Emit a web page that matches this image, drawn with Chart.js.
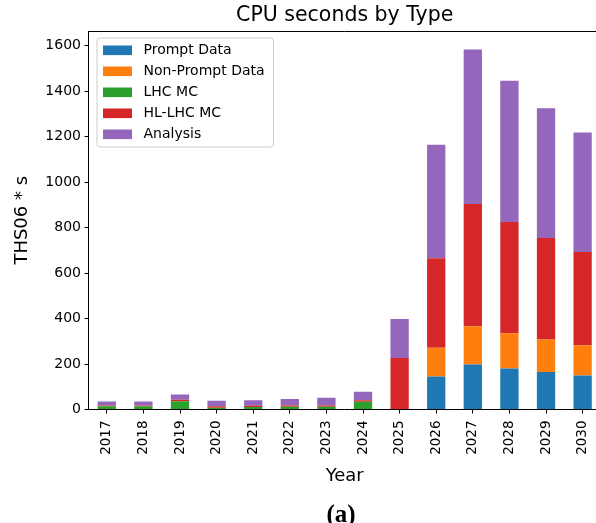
<!DOCTYPE html>
<html lang="en">
<head>
  <meta charset="UTF-8" />
  <title>CPU seconds by Type</title>
  <script src="https://cdn.jsdelivr.net/npm/chart.js"></script>
  <style>
    html, body {
      margin: 0;
      padding: 0;
      background: #fff;
      overflow: hidden;
    }
    canvas {
      display: block;
    }
  </style>
</head>
<body>
  <canvas id="cpuChart" width="606" height="523"></canvas>

  <script>
  // values (THS06 * s)
  const years = ['2017', '2018', '2019', '2020', '2021', '2022', '2023',
                 '2024', '2025', '2026', '2027', '2028', '2029', '2030'];
  const promptData    = [0, 0, 0, 0, 0, 0, 0, 0, 0, 145, 198, 180, 165, 150];
  const nonPromptData = [0, 0, 0, 0, 0, 0, 0, 0, 0, 127, 168, 155, 143, 133];
  const lhcMC         = [14, 14, 36, 8, 11, 12, 12, 34, 0, 0, 0, 0, 0, 0];
  const hllhcMC       = [4, 4, 7, 6, 5, 6, 6, 7, 227, 393, 538, 490, 446, 410];
  const analysis      = [17, 17, 23, 24, 25, 28, 34, 37, 171, 500, 680, 621, 571, 525];
  const yTicks = [0, 200, 400, 600, 800, 1000, 1200, 1400, 1600];

  const seriesNames  = ['Prompt Data', 'Non-Prompt Data', 'LHC MC', 'HL-LHC MC', 'Analysis'];
  const seriesValues = [promptData, nonPromptData, lhcMC, hllhcMC, analysis];
  const seriesColors = ['#1f77b4', '#ff7f0e', '#2ca02c', '#d62728', '#9467bd'];

  const FONT = '"DejaVu Sans", sans-serif';
  Chart.defaults.color = '#000';
  Chart.defaults.font.family = FONT;

  // title, top/right spines, legend box and the "(a)" caption
  const extras = {
    id: 'extras',
    afterDraw(chart) {
      const { ctx, chartArea: a } = chart;
      ctx.save();

      ctx.strokeStyle = '#000';
      ctx.lineWidth = 1;
      ctx.beginPath();
      ctx.moveTo(a.left, Math.round(a.top) + 0.5);
      ctx.lineTo(a.right, Math.round(a.top) + 0.5);
      ctx.lineTo(a.right, a.bottom);
      ctx.stroke();

      ctx.fillStyle = '#000';
      ctx.textAlign = 'center';
      ctx.textBaseline = 'middle';
      ctx.font = '20.5px ' + FONT;
      ctx.fillText('CPU seconds by Type', (a.left + a.right) / 2, 15.5);

      ctx.font = 'bold 25px "Liberation Serif", serif';
      ctx.textBaseline = 'alphabetic';
      ctx.fillText('(a)', 341, 521.5);

      // legend
      const lx = a.left + 8.5, ly = a.top + 7, lw = 176.5, lh = 109;
      ctx.beginPath();
      ctx.roundRect(lx, ly, lw, lh, 3);
      ctx.fillStyle = 'rgba(255,255,255,0.8)';
      ctx.fill();
      ctx.strokeStyle = '#cccccc';
      ctx.stroke();

      ctx.font = '14px ' + FONT;
      ctx.textAlign = 'left';
      ctx.textBaseline = 'middle';
      chart.data.datasets.forEach((ds, i) => {
        const cy = ly + 12.3 + i * 21;
        ctx.fillStyle = ds.backgroundColor;
        ctx.fillRect(lx + 6, cy - 4.8, 29, 9.6);
        ctx.fillStyle = '#000';
        ctx.fillText(ds.label, lx + 46.5, cy);
      });

      ctx.restore();
    }
  };

  const ctx = document.getElementById('cpuChart').getContext('2d');
  new Chart(ctx, {
    type: 'bar',
    data: {
      labels: years,
      datasets: seriesNames.map((name, i) => ({
        label: name,
        data: seriesValues[i],
        backgroundColor: seriesColors[i],
        borderWidth: 0,
        barPercentage: 0.5,
        categoryPercentage: 1.0
      }))
    },
    options: {
      responsive: false,
      animation: false,
      layout: {
        padding: { top: 31, right: 5, bottom: 28, left: 0 }
      },
      plugins: {
        legend: { display: false },
        tooltip: { enabled: false }
      },
      scales: {
        x: {
          stacked: true,
          offset: true,
          grid: {
            offset: false,
            drawOnChartArea: false,
            drawTicks: true,
            tickLength: 4,
            color: '#000'
          },
          border: { display: true, color: '#000', width: 1 },
          ticks: {
            autoSkip: false,
            minRotation: 90,
            maxRotation: 90,
            padding: 7,
            font: { size: 13.5 }
          },
          title: {
            display: true,
            text: 'Year',
            font: { size: 18 },
            padding: { top: 0, bottom: 8 }
          },
          afterFit(scale) {
            scale.height = 85.5;
          }
        },
        y: {
          stacked: true,
          min: 0,
          max: 1665,
          grid: {
            drawOnChartArea: false,
            drawTicks: true,
            tickLength: 4,
            color: '#000'
          },
          border: { display: true, color: '#000', width: 1 },
          ticks: {
            padding: 3.5,
            font: { size: 14 },
            callback: v => String(v)
          },
          afterBuildTicks(scale) {
            scale.ticks = yTicks.map(v => ({ value: v }));
          },
          title: {
            display: true,
            text: 'THS06 * s',
            font: { size: 18 },
            padding: { top: 11.5, bottom: 0 }
          },
          afterFit(scale) {
            scale.width = 88.5;
          }
        }
      }
    },
    plugins: [extras]
  });
  </script>
</body>
</html>
